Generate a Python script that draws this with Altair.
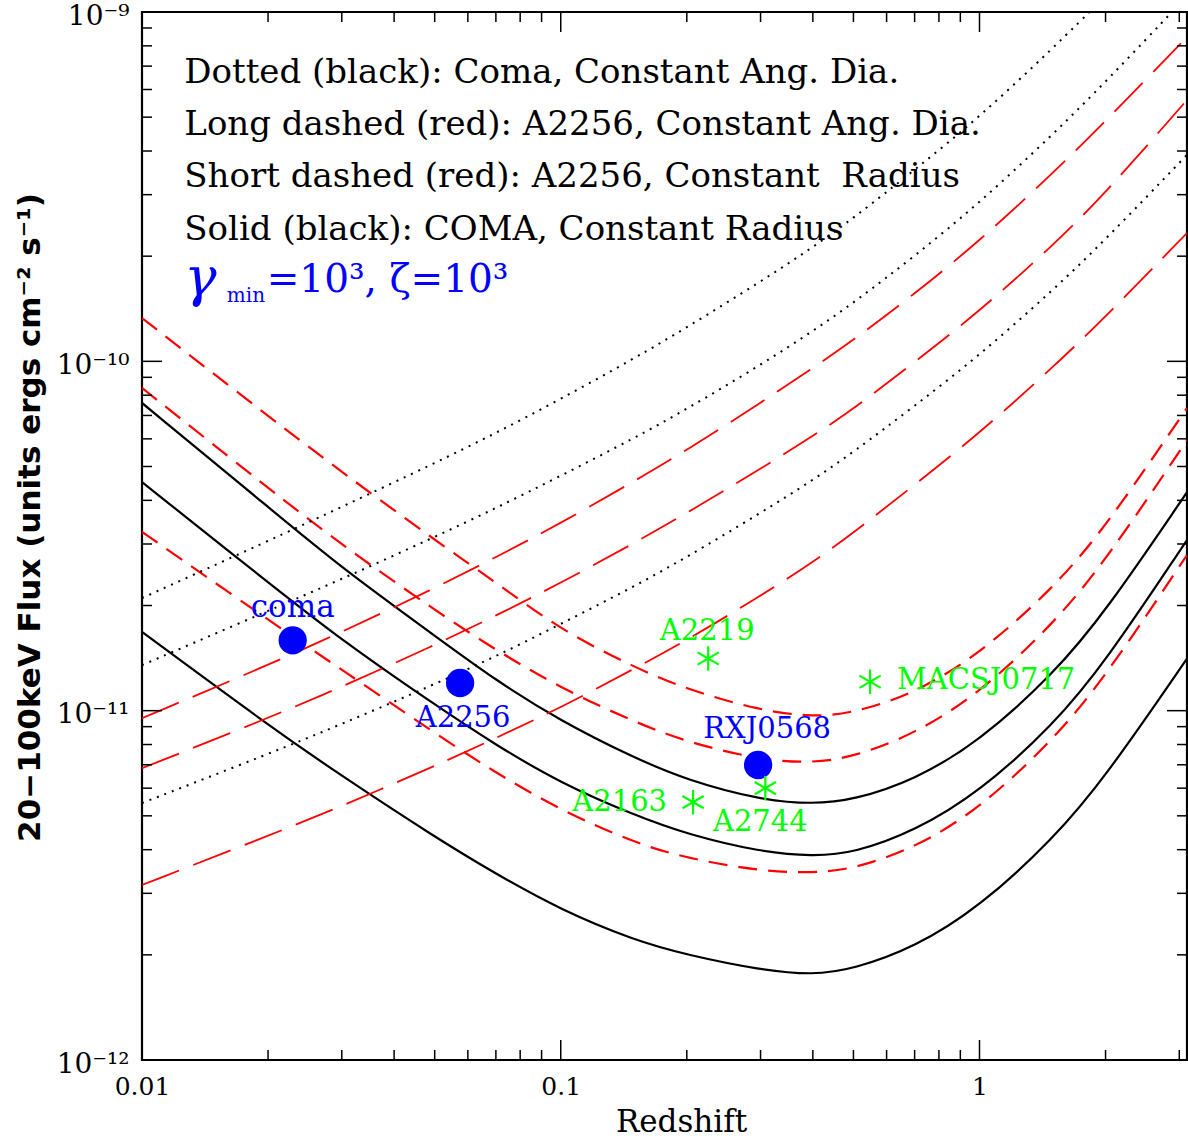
import altair as alt
import pandas as pd

# ---------------- data ----------------
z_grid = [0.01, 0.02, 0.03, 0.05, 0.07, 0.1, 0.15, 0.2, 0.3, 0.4, 0.5, 0.7, 1.0, 1.5, 2.0, 3.13]

# Solid (black): COMA, constant radius
solid_1 = [7.60e-11, 3.83e-11, 2.56e-11, 1.64e-11, 1.22e-11, 9.34e-12, 7.32e-12, 6.33e-12,
           5.55e-12, 5.40e-12, 5.55e-12, 6.33e-12, 8.18e-12, 1.27e-11, 1.92e-11, 4.22e-11]
solid_2 = [4.51e-11, 2.33e-11, 1.59e-11, 1.04e-11, 7.97e-12, 6.20e-12, 5.02e-12, 4.43e-12,
           3.94e-12, 3.83e-12, 3.91e-12, 4.52e-12, 5.85e-12, 9.09e-12, 1.38e-11, 3.08e-11]
solid_3 = [1.68e-11, 9.09e-12, 6.50e-12, 4.35e-12, 3.41e-12, 2.69e-12, 2.20e-12, 2.00e-12,
           1.81e-12, 1.75e-12, 1.82e-12, 2.10e-12, 2.74e-12, 4.29e-12, 6.46e-12, 1.41e-11]
# Short dashed (red): A2256, constant radius
short_1 = [1.33e-10, 6.97e-11, 4.82e-11, 3.08e-11, 2.33e-11, 1.70e-11, 1.33e-11, 1.15e-11,
           1.00e-11, 9.59e-12, 9.84e-12, 1.12e-11, 1.45e-11, 2.24e-11, 3.35e-11, 7.35e-11]
short_2 = [8.39e-11, 4.34e-11, 2.98e-11, 1.94e-11, 1.49e-11, 1.16e-11, 9.28e-12, 8.13e-12,
           7.22e-12, 7.08e-12, 7.37e-12, 8.57e-12, 1.12e-11, 1.77e-11, 2.68e-11, 5.95e-11]
short_3 = [3.25e-11, 1.82e-11, 1.31e-11, 8.63e-12, 6.63e-12, 5.19e-12, 4.18e-12, 3.78e-12,
           3.47e-12, 3.43e-12, 3.52e-12, 4.04e-12, 5.23e-12, 8.24e-12, 1.25e-11, 2.79e-11]
# Long dashed (red): A2256, constant angular diameter
long_1 = [9.52e-12, 1.35e-11, 1.68e-11, 2.24e-11, 2.75e-11, 3.44e-11, 4.54e-11, 5.57e-11,
          7.60e-11, 9.57e-11, 1.15e-10, 1.56e-10, 2.21e-10, 3.46e-10, 4.87e-10, 8.48e-10]
long_2 = [6.84e-12, 9.52e-12, 1.17e-11, 1.54e-11, 1.87e-11, 2.32e-11, 3.02e-11, 3.68e-11,
          4.92e-11, 6.11e-11, 7.30e-11, 9.95e-11, 1.39e-10, 2.15e-10, 3.03e-10, 5.60e-10]
long_3 = [3.17e-12, 4.38e-12, 5.33e-12, 6.94e-12, 8.35e-12, 1.02e-11, 1.32e-11, 1.59e-11,
          2.13e-11, 2.66e-11, 3.23e-11, 4.43e-11, 6.23e-11, 9.63e-11, 1.34e-10, 2.33e-10]
# Dotted (black): Coma, constant angular diameter
dotted_1 = [2.10e-11, 3.06e-11, 3.83e-11, 5.11e-11, 6.23e-11, 7.80e-11, 1.02e-10, 1.25e-10,
            1.69e-10, 2.12e-10, 2.57e-10, 3.53e-10, 5.00e-10, 7.89e-10, 1.11e-9]
dotted_2 = [1.35e-11, 1.93e-11, 2.38e-11, 3.14e-11, 3.80e-11, 4.70e-11, 6.03e-11, 7.30e-11,
            9.76e-11, 1.22e-10, 1.47e-10, 2.00e-10, 2.84e-10, 4.47e-10, 6.30e-10, 1.11e-9]
dotted_3 = [5.44e-12, 7.51e-12, 9.15e-12, 1.19e-11, 1.43e-11, 1.77e-11, 2.27e-11, 2.75e-11,
            3.68e-11, 4.57e-11, 5.50e-11, 7.45e-11, 1.04e-10, 1.60e-10, 2.23e-10, 3.90e-10]

# measured clusters (blue dots) and others (green stars)
blue_names = ["coma", "A2256", "RXJ0568"]
blue_z = [0.0229, 0.0575, 0.296]
blue_flux = [1.59e-11, 1.20e-11, 6.99e-12]

green_names = ["A2219", "MACSJ0717", "A2163", "A2744"]
green_z = [0.225, 0.548, 0.207, 0.308]
green_flux = [1.41e-11, 1.21e-11, 5.47e-12, 6.00e-12]

# axis ticks and labels
x_major = [0.01, 0.1, 1]
x_major_labels = ["0.01", "0.1", "1"]
x_minor = [0.02, 0.03, 0.04, 0.05, 0.06, 0.07, 0.08, 0.09,
           0.2, 0.3, 0.4, 0.5, 0.6, 0.7, 0.8, 0.9, 2, 3]
y_major = [1e-12, 1e-11, 1e-10, 1e-9]
y_major_labels = ["10\u207b\u00b9\u00b2", "10\u207b\u00b9\u00b9", "10\u207b\u00b9\u2070", "10\u207b\u2079"]
y_minor = [k * 10.0 ** e for e in (-12, -11, -10) for k in range(2, 10)]

# annotation text (anchored in data coordinates)
legend_lines = ["Dotted (black): Coma, Constant Ang. Dia.",
                "Long dashed (red): A2256, Constant Ang. Dia.",
                "Short dashed (red): A2256, Constant\u00a0 Radius",
                "Solid (black): COMA, Constant Radius"]
legend_z = 0.01262
legend_flux = [6.69e-10, 4.75e-10, 3.37e-10, 2.38e-10]

# ---------------- build tables ----------------
series = {
    "solid": [solid_1, solid_2, solid_3],
    "short": [short_1, short_2, short_3],
    "long": [long_1, long_2, long_3],
    "dotted": [dotted_1, dotted_2, dotted_3],
}
rows = []
for style, lst in series.items():
    for i, vals in enumerate(lst):
        for z, f in zip(z_grid, vals):
            rows.append({"style": style, "curve": f"{style}{i}", "z": z, "f": f})
curves = pd.DataFrame(rows)

W, H = 1045, 1048
xs = alt.Scale(type="log", domain=[0.01, 3.13], nice=False)
ys = alt.Scale(type="log", domain=[1e-12, 1e-9], nice=False)

x_expr = "[" + ",".join(f"'{s}'" for s in x_major_labels) + "][round(log(datum.value)/LN10)+2]"
y_expr = "[" + ",".join(f"'{s}'" for s in y_major_labels) + "][round(log(datum.value)/LN10)+12]"

x_axis = alt.Axis(values=x_major, labelExpr=x_expr, ticks=False, domain=False, grid=False,
                  labelFont="DejaVu Serif", labelFontSize=25, labelPadding=14, labelColor="black",
                  labelOverlap=False, labelFlush=False, labelBound=False,
                  title="Redshift", titleFont="DejaVu Serif", titleFontSize=31,
                  titleFontWeight="normal", titleColor="black", titleX=539, titleY=62,
                  titleBaseline="middle")
y_axis = alt.Axis(values=y_major, labelExpr=y_expr, ticks=False, domain=False, grid=False,
                  labelFont="DejaVu Serif", labelFontSize=28, labelPadding=13, labelColor="black",
                  labelOffset=4,
                  labelOverlap=False, labelFlush=False, labelBound=False,
                  title="20\u2212100keV Flux (units ergs cm\u207b\u00b2 s\u207b\u00b9)",
                  titleFont="DejaVu Sans", titleFontSize=31, titleFontWeight="bold",
                  titleColor="black", titleX=-112, titleY=505, titleBaseline="middle", titleAngle=270)

X = lambda f="z": alt.X(f"{f}:Q", scale=xs, axis=x_axis)
Y = lambda f="f": alt.Y(f"{f}:Q", scale=ys, axis=y_axis)


def line_layer(style, color, width, dash=None):
    kw = dict(color=color, strokeWidth=width, interpolate="basis", clip=True)
    if dash is not None:
        kw["strokeDash"] = dash
    return alt.Chart(curves[curves["style"] == style]).mark_line(**kw).encode(
        x=X(), y=Y(), detail="curve:N")


layers = [
    line_layer("solid", "black", 2.2),
    line_layer("short", "#ff0000", 2.2, dash=[19, 11]),
    line_layer("long", "#ff0000", 1.8, dash=[40, 15]),
    line_layer("dotted", "black", 2.0, dash=[2, 6]),
]

blue_df = pd.DataFrame({"name": blue_names, "z": blue_z, "f": blue_flux})
green_df = pd.DataFrame({"name": green_names, "z": green_z, "f": green_flux})

layers.append(alt.Chart(blue_df).mark_circle(size=800, color="#0000ff", opacity=1).encode(x=X(), y=Y()))
star = "M0,-1L0,1M-0.866,-0.5L0.866,0.5M-0.866,0.5L0.866,-0.5"
layers.append(alt.Chart(green_df).mark_point(shape=star, size=600, filled=False, strokeWidth=2.2,
                                             color="#00ff00", opacity=1).encode(x=X(), y=Y()))

label_style = {
    "coma": dict(dx=0, dy=-32, align="center", fontSize=31),
    "A2256": dict(dx=3, dy=35, align="center", fontSize=29),
    "RXJ0568": dict(dx=9, dy=-36, align="center", fontSize=29),
    "A2219": dict(dx=-1, dy=-28, align="center", fontSize=29),
    "MACSJ0717": dict(dx=27, dy=-2, align="left", fontSize=29),
    "A2163": dict(dx=-26, dy=0, align="right", fontSize=29),
    "A2744": dict(dx=-5, dy=34, align="center", fontSize=29),
}
for df_, colr in ((blue_df, "#0000ff"), (green_df, "#00ff00")):
    for name in df_["name"]:
        st = label_style[name]
        layers.append(alt.Chart(df_[df_["name"] == name]).mark_text(
            font="DejaVu Serif", color=colr, baseline="middle", **st).encode(
            x=X(), y=Y(), text="name:N"))

legend_df = pd.DataFrame({"t": legend_lines, "z": [legend_z] * 4, "f": legend_flux})
layers.append(alt.Chart(legend_df).mark_text(font="DejaVu Serif", fontSize=34, color="black",
                                             align="left", baseline="middle").encode(
    x=X(), y=Y(), text="t:N"))

# blue parameter line: gamma_min = 10^3, zeta = 10^3
formula_df = pd.DataFrame({"t": ["\u03b3", "min", "=10\u00b3,  \u03b6=10\u00b3"],
                           "z": [0.01262, 0.01594, 0.01985],
                           "f": [1.71e-10, 1.54e-10, 1.71e-10],
                           "s": [54, 20, 39],
                           "st": ["italic", "normal", "normal"]})
for i in range(3):
    layers.append(alt.Chart(formula_df.iloc[[i]]).mark_text(
        font="DejaVu Serif", color="#0000ff", align="left", baseline="middle",
        fontSize=int(formula_df["s"][i]), fontStyle=formula_df["st"][i]).encode(
        x=X(), y=Y(), text="t:N"))

# ticks drawn inward on all four sides
tick_x = pd.DataFrame({"v": x_major + x_minor, "len": [20] * len(x_major) + [10] * len(x_minor)})
tick_y = pd.DataFrame({"v": y_major + y_minor, "len": [20] * len(y_major) + [10] * len(y_minor)})
for L in (20, 10):
    dx = tick_x[tick_x["len"] == L]
    dy = tick_y[tick_y["len"] == L]
    layers.append(alt.Chart(dx).mark_rule(color="black", strokeWidth=1.5).encode(
        x=X("v"), y=alt.value(H), y2=alt.value(H - L)))
    layers.append(alt.Chart(dx).mark_rule(color="black", strokeWidth=1.5).encode(
        x=X("v"), y=alt.value(0), y2=alt.value(L)))
    layers.append(alt.Chart(dy).mark_rule(color="black", strokeWidth=1.5).encode(
        y=Y("v"), x=alt.value(0), x2=alt.value(L)))
    layers.append(alt.Chart(dy).mark_rule(color="black", strokeWidth=1.5).encode(
        y=Y("v"), x=alt.value(W), x2=alt.value(W - L)))

chart = alt.layer(*layers).properties(
    width=W, height=H,
    autosize=alt.AutoSizeParams(type="none"),
    padding={"left": 142, "top": 12, "right": 1, "bottom": 81},
    background="white",
).configure_view(stroke="black", strokeWidth=2.2)

chart.save("out.html", embed_options={"renderer": "svg", "actions": False})
